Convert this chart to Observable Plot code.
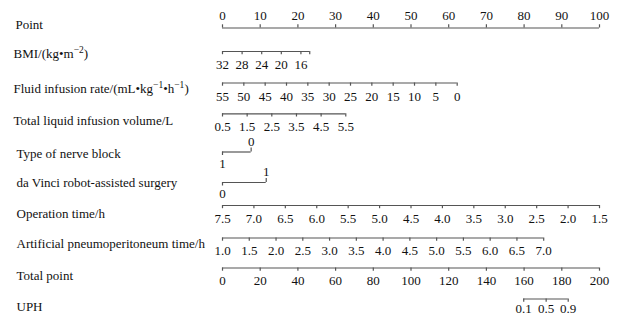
<!DOCTYPE html>
<html><head><meta charset="utf-8">
<script src="https://cdn.jsdelivr.net/npm/d3@7"></script>
<script src="https://cdn.jsdelivr.net/npm/@observablehq/plot@0.6"></script>
<style>body{margin:0;background:#fff}</style>
</head><body><div id="chart"></div>
<script>
// ---- data ----
const pointTicks = [0,10,20,30,40,50,60,70,80,90,100];
const bmiTicks = [32,28,24,20,16];
const bmiEnds = [32,14.2];
const bmiAnchor = [[32,0],[16,20.8]];
const rateTicks = [55,50,45,40,35,30,25,20,15,10,5,0];
const rateEnds = [55,0];
const rateAnchor = [[55,0],[0,62.25]];
const volumeTicks = [0.5,1.5,2.5,3.5,4.5,5.5];
const volumeEnds = [0.5,5.5];
const volumeAnchor = [[0.5,0],[5.5,32.7]];
const nerveLevels = [1,0];
const nerveAnchor = [[1,0],[0,7.6]];
const robotLevels = [0,1];
const robotAnchor = [[0,0],[1,11.6]];
const opTicks = [7.5,7.0,6.5,6.0,5.5,5.0,4.5,4.0,3.5,3.0,2.5,2.0,1.5];
const opEnds = [7.5,1.5];
const opAnchor = [[7.5,0],[1.5,100]];
const aptTicks = [1.0,1.5,2.0,2.5,3.0,3.5,4.0,4.5,5.0,5.5,6.0,6.5,7.0];
const aptEnds = [1.0,7.0];
const aptAnchor = [[1.0,0],[7.0,85.2]];
const totalTicks = [0,20,40,60,80,100,120,140,160,180,200];
const totalAnchor = [[0,0],[200,100]];
const uphTicks = [0.1,0.5,0.9];
const uphTotals = [159.8,171.7,183.4];

// ---- layout (pixel rows) ----
const layout = {
  points:{y:27.5, t:24, ld:12.5}, bmi:{y:51, t:53, ld:13}, rate:{y:82.5, t:88, ld:13.5}, volume:{y:113.3, t:120, ld:13.5},
  nerve:{y:151.5, t:153, ld:11.5}, robot:{y:182, t:182, ld:11.5}, op:{y:205, t:213, ld:13}, apt:{y:237.5, t:243, ld:13},
  total:{y:267.5, t:275, ld:12.5}, uph:{y:298.5, t:306, ld:10}
};
const titleX = {points:15, bmi:13, rate:13, volume:13, nerve:16, robot:16, op:16, apt:16, total:16, uph:16};

const lin = a => d3.scaleLinear().domain([a[0][0],a[1][0]]).range([a[0][1],a[1][1]]);
const f1 = d3.format(".1f");

const rows = [
  {key:"points", title:"Point", ticks:pointTicks, ends:[0,100], sc:v=>v, fmt:String, side:"up"},
  {key:"bmi", title:"BMI/(kg•m^{−2})", ticks:bmiTicks, ends:bmiEnds, sc:lin(bmiAnchor), fmt:String, endTick:true},
  {key:"rate", title:"Fluid infusion rate/(mL•kg^{−1}•h^{−1})", ticks:rateTicks, ends:rateEnds, sc:lin(rateAnchor), fmt:String},
  {key:"volume", title:"Total liquid infusion volume/L", ticks:volumeTicks, ends:volumeEnds, sc:lin(volumeAnchor), fmt:f1},
  {key:"nerve", title:"Type of nerve block", ticks:nerveLevels, ends:nerveLevels, sc:lin(nerveAnchor), fmt:String, cat:true},
  {key:"robot", title:"da Vinci robot-assisted surgery", ticks:robotLevels, ends:robotLevels, sc:lin(robotAnchor), fmt:String, cat:true},
  {key:"op", title:"Operation time/h", ticks:opTicks, ends:opEnds, sc:lin(opAnchor), fmt:f1},
  {key:"apt", title:"Artificial pneumoperitoneum time/h", ticks:aptTicks, ends:aptEnds, sc:lin(aptAnchor), fmt:f1},
  {key:"total", title:"Total point", ticks:totalTicks, ends:[0,200], sc:lin(totalAnchor), fmt:String},
  {key:"uph", title:"UPH", ticks:uphTicks, ends:[uphTicks[0],uphTicks[2]], sc:v=>lin(totalAnchor)(uphTotals[uphTicks.indexOf(v)]), fmt:String}
];

const lines = [], ticks = [], labels = [], titles = [];
const TL = 3.2;
for (const r of rows) {
  const L = layout[r.key];
  lines.push({x1:r.sc(r.ends[0]), x2:r.sc(r.ends[1]), y:L.y});
  titles.push({title:r.title, y:L.t, dx:titleX[r.key]});
  const tv = r.endTick ? [...r.ticks, r.ends[1]] : r.ticks;
  tv.forEach((v,i) => {
    const x = r.sc(v);
    let up = r.side === "up";
    if (r.cat) up = i === 1;
    ticks.push({x, y1:L.y, y2: up ? L.y - (r.cat?4:TL) : L.y + (r.cat?3.5:TL)});
    if (i < r.ticks.length) labels.push({x, y: up ? L.y - (r.cat?10.5:L.ld) : L.y + L.ld, text:r.fmt(v)});
  });
}

const stroke = "#555";
const svg = Plot.plot({
  width:624, height:318,
  marginLeft:0, marginRight:0, marginTop:0, marginBottom:0,
  x:{domain:[0,100], range:[222,599], axis:null},
  y:{domain:[0,318], range:[0,318], axis:null},
  style:{fontFamily:"'Liberation Serif','Times New Roman',serif", fontSize:"13px", background:"#fff", color:"#111"},
  marks:[
    Plot.ruleY(lines, {y:"y", x1:"x1", x2:"x2", stroke, strokeWidth:1.2}),
    Plot.ruleX(ticks, {x:"x", y1:"y1", y2:"y2", stroke, strokeWidth:1.2}),
    Plot.text(labels, {x:"x", y:"y", text:"text", fill:"#111", fontSize:13}),
    Plot.text(titles, {y:"y", text:"title", frameAnchor:"left", textAnchor:"start", fill:"#111", fontSize:13, className:"row-title"})
  ]
});
// place titles at their left offsets and render superscripts
d3.select(svg).selectAll(".row-title text").each(function(_, i){
  d3.select(this).attr("x", titles[i].dx);
  const s = this.textContent;
  if (!s.includes("^{")) return;
  const t = d3.select(this); t.text(null);
  s.split(/(\^\{[^}]*\})/).forEach(p => {
    if (!p) return;
    if (p.startsWith("^{")) t.append("tspan").attr("baseline-shift","super").attr("font-size","9.5px").text(p.slice(2,-1));
    else t.append("tspan").text(p);
  });
});
document.getElementById("chart").append(svg);
</script>
</body></html>
